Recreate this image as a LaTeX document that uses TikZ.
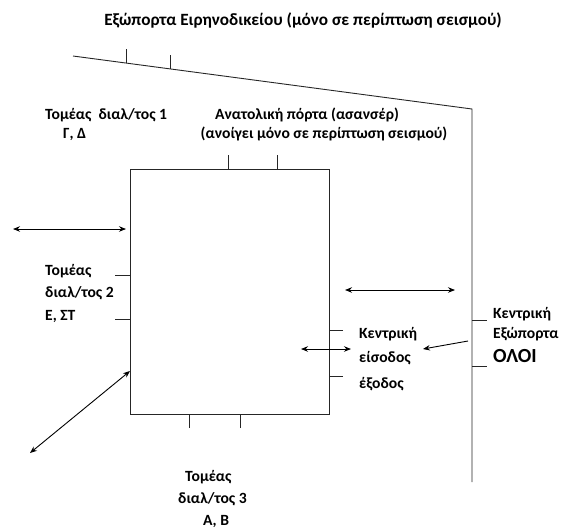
\documentclass[tikz,border=0pt]{standalone}
\usepackage{fontspec}
\setmainfont{Carlito}
\usetikzlibrary{arrows.meta}
\tikzset{
  wall/.style={draw=black!85, line width=0.9pt},
  tick/.style={draw=black!85, line width=0.9pt},
  lbl/.style={font=\bfseries\fontsize{15.6}{18}\selectfont, inner sep=0pt, anchor=west},
  lblc/.style={font=\bfseries\fontsize{15.6}{18}\selectfont, inner sep=0pt},
  dbl/.style={line width=0.9pt, {Stealth[length=7pt,width=5.5pt]}-{Stealth[length=7pt,width=5.5pt]}},
  sgl/.style={line width=0.9pt, -{Stealth[length=7pt,width=5.5pt]}}
}
\begin{document}
\begin{tikzpicture}[x=1pt,y=-1pt]
\useasboundingbox (0,0) rectangle (561,531);
% title
\node[lblc, font=\bfseries\fontsize{17.2}{20}\selectfont] (title) at (303,20) {Εξώπορτα Ειρηνοδικείου (μόνο σε περίπτωση σεισμού)};
% outer wall
\coordinate (w1) at (73,56);
\coordinate (w2) at (472,109);
\coordinate (w3) at (472,482);
\draw[wall] (w1) -- (w2) -- (w3);
% wall ticks (top)
\coordinate (t1a) at (126,63); \coordinate (t1b) at (126,49);
\coordinate (t2a) at (170,69); \coordinate (t2b) at (170,55);
\draw[tick] (t1a) -- (t1b);
\draw[tick] (t2a) -- (t2b);
% wall ticks (right)
\coordinate (r1a) at (472,320); \coordinate (r1b) at (487,320);
\coordinate (r2a) at (472,366); \coordinate (r2b) at (487,366);
\draw[tick] (r1a) -- (r1b);
\draw[tick] (r2a) -- (r2b);
% main box
\node[draw=black!85, line width=0.9pt, minimum width=199pt, minimum height=245pt, inner sep=0pt] (box) at (229.5,291.5) {};
% box ticks
\coordinate (bt1) at (228,155); \coordinate (bt2) at (277,155);
\draw[tick] (bt1) -- (bt1 |- box.north);
\draw[tick] (bt2) -- (bt2 |- box.north);
\coordinate (bl1) at (115,275); \coordinate (bl2) at (115,319);
\draw[tick] (bl1) -- (bl1 -| box.west);
\draw[tick] (bl2) -- (bl2 -| box.west);
\coordinate (br1) at (343,330); \coordinate (br2) at (343,376);
\draw[tick] (br1) -- (br1 -| box.east);
\draw[tick] (br2) -- (br2 -| box.east);
\coordinate (bb1) at (189,428); \coordinate (bb2) at (240,428);
\draw[tick] (bb1) -- (bb1 |- box.south);
\draw[tick] (bb2) -- (bb2 |- box.south);
% arrows
\coordinate (a1l) at (13,229); \coordinate (a1r) at (126,229);
\draw[dbl] (a1l) -- (a1r);
\coordinate (a2l) at (345,290); \coordinate (a2r) at (455,290);
\draw[dbl] (a2l) -- (a2r);
\coordinate (a3l) at (301,349); \coordinate (a3r) at (351,349);
\draw[dbl] (a3l) -- (a3r);
\coordinate (a4s) at (468,341); \coordinate (a4e) at (423,349);
\draw[sgl] (a4s) -- (a4e);
\coordinate (a5s) at (130,371); \coordinate (a5e) at (30,453);
\draw[dbl] (a5s) -- (a5e);
% labels
\node[lbl] (s1a) at (45,115) {Τομέας\ \ διαλ/τος 1};
\node[lbl] (s1b) at (63,134) {Γ, Δ};
\node[lblc] (e1) at (307,115) {Ανατολική πόρτα (ασανσέρ)};
\node[lblc] (e2) at (324,134) {(ανοίγει μόνο σε περίπτωση σεισμού)};
\node[lbl] (s2a) at (45,271) {Τομέας};
\node[lbl] (s2b) at (45,293) {διαλ/τος 2};
\node[lbl] (s2c) at (45,316) {Ε, ΣΤ};
\node[lbl] (k1) at (359,334) {Κεντρική};
\node[lbl] (k2) at (359,358) {είσοδος};
\node[lbl] (k3) at (359,384) {έξοδος};
\node[lbl] (o1) at (493,314) {Κεντρική};
\node[lbl] (o2) at (493,334) {Εξώπορτα};
\node[lbl, font=\bfseries\fontsize{20}{23}\selectfont] (o3) at (493,356) {ΟΛΟΙ};
\node[lbl] (s3a) at (185,477) {Τομέας};
\node[lbl] (s3b) at (178,499) {διαλ/τος 3};
\node[lbl] (s3c) at (203,521) {Α, Β};
\end{tikzpicture}
\end{document}
